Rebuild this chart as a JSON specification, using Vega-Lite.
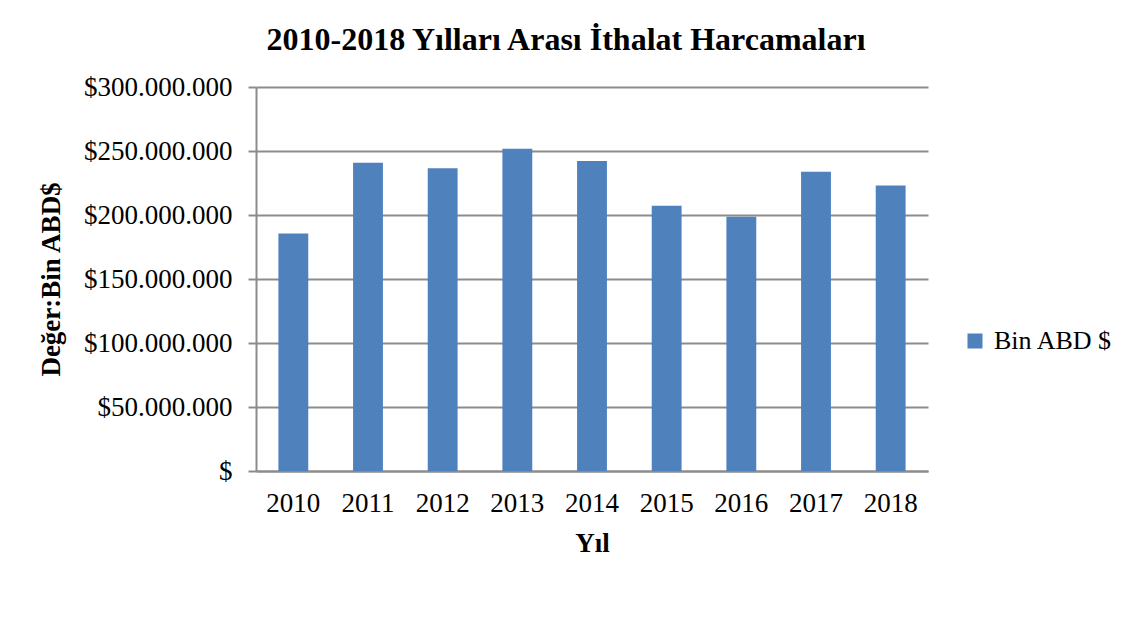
{
  "$schema": "https://vega.github.io/schema/vega-lite/v6.json",
  "autosize": "none",
  "width": 672,
  "height": 384,
  "padding": {"left": 256, "top": 87, "right": 198, "bottom": 152},
  "background": "white",
  "title": {
    "text": "2010-2018 Yılları Arası İthalat Harcamaları",
    "font": "Liberation Serif",
    "fontSize": 32,
    "fontWeight": "bold",
    "color": "black",
    "anchor": "middle",
    "frame": "group",
    "dx": -26,
    "offset": 16
  },
  "config": {
    "locale": {
      "number": {"decimal": ",", "thousands": ".", "grouping": [3], "currency": ["$", ""]}
    },
    "view": {"stroke": null},
    "axis": {"labelFont": "Liberation Serif", "titleFont": "Liberation Serif", "labelColor": "black", "titleColor": "black"}
  },
  "data": {
    "values": [
      {"Yil": "2010", "Deger": 185544332, "Seri": "Bin ABD $"},
      {"Yil": "2011", "Deger": 240841676, "Seri": "Bin ABD $"},
      {"Yil": "2012", "Deger": 236545141, "Seri": "Bin ABD $"},
      {"Yil": "2013", "Deger": 251661250, "Seri": "Bin ABD $"},
      {"Yil": "2014", "Deger": 242177117, "Seri": "Bin ABD $"},
      {"Yil": "2015", "Deger": 207234359, "Seri": "Bin ABD $"},
      {"Yil": "2016", "Deger": 198618235, "Seri": "Bin ABD $"},
      {"Yil": "2017", "Deger": 233799651, "Seri": "Bin ABD $"},
      {"Yil": "2018", "Deger": 223047094, "Seri": "Bin ABD $"}
    ]
  },
  "mark": {"type": "bar"},
  "encoding": {
    "x": {
      "field": "Yil",
      "type": "ordinal",
      "scale": {"paddingInner": 0.6, "paddingOuter": 0.3},
      "axis": {
        "title": "Yıl",
        "titleFontSize": 27,
        "titleFontWeight": "bold",
        "titlePadding": 14,
        "labelAngle": 0,
        "labelFontSize": 27,
        "labelPadding": 19,
        "ticks": false,
        "domainColor": "#8c8c8c",
        "domainWidth": 2
      }
    },
    "y": {
      "field": "Deger",
      "type": "quantitative",
      "scale": {"domain": [0, 300000000], "nice": false},
      "axis": {
        "title": "Değer:Bin ABD$",
        "titleFontSize": 27,
        "titleFontWeight": "bold",
        "titlePadding": 18,
        "values": [0, 50000000, 100000000, 150000000, 200000000, 250000000, 300000000],
        "format": ",.0f",
        "labelExpr": "datum.value == 0 ? '$' : '$' + datum.label",
        "labelFontSize": 27,
        "labelPadding": 16,
        "tickSize": 8,
        "tickColor": "#8c8c8c",
        "tickWidth": 2,
        "domainColor": "#8c8c8c",
        "domainWidth": 2,
        "grid": true,
        "gridColor": "#8c8c8c",
        "gridWidth": 2
      }
    },
    "color": {
      "field": "Seri",
      "type": "nominal",
      "scale": {"range": ["#4F81BD"]},
      "legend": {
        "title": null,
        "orient": "none",
        "legendX": 706,
        "legendY": 241,
        "symbolType": "square",
        "symbolSize": 225,
        "symbolStrokeWidth": 0,
        "symbolOpacity": 1,
        "labelFont": "Liberation Serif",
        "labelFontSize": 26,
        "labelColor": "black",
        "labelOffset": 6
      }
    }
  }
}
